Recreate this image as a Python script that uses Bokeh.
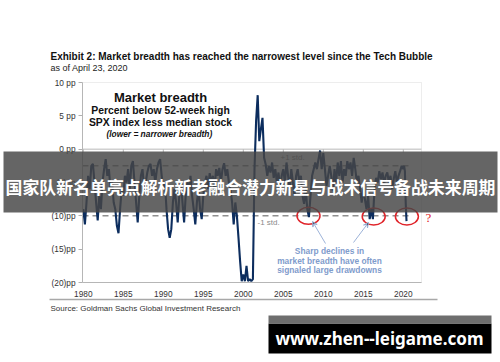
from bokeh.plotting import figure
from bokeh.models import (Label, BoxAnnotation, FixedTicker, Arrow, VeeHead,
                          LinearAxis)
from bokeh.embed import file_html
from bokeh.resources import INLINE

# ---------------- data ----------------
title_text = "Exhibit 2: Market breadth has reached the narrowest level since the Tech Bubble"
subtitle_text = "as of April 23, 2020"
source_text = "Source: Goldman Sachs Global Investment Research"
banner_text = "国家队新名单亮点解析新老融合潜力新星与战术信号备战未来周期"
watermark_text = "www.zhen--leigame.com"
box_lines = ["Market breadth", "Percent below 52-week high",
             "SPX index less median stock", "(lower = narrower  breadth)"]
note_lines = ["Sharp declines in", "market breadth have often", "signaled large drawdowns"]

y_ticks = [10, 5, 0, -5, -10, -15, -20]
y_tick_labels = ["10 pp", "5 pp", "0 pp", "(5)pp", "(10)pp", "(15)pp", "(20)pp"]
x_ticks = [1980, 1985, 1990, 1995, 2000, 2005, 2010, 2015, 2020]
x_tick_labels = ["1980", "1985", "1990", "1995", "2000", "2005", "2010", "2015", "2020"]

std_levels = [-2.5, -10.0]
std_labels = ["+1 std.", "-1 std."]
circled_years = [2008.15, 2016.3, 2020.45]
circled_values = [-10.0, -10.1, -10.1]

# percent below 52-week high, SPX less median stock (pp), 5 readings per year
breadth_1980s = [
    -9, -11.3, -8, -4, -6,
    -2.5, -2.2, -5, -8, -10.7,
    -7, -9, -5, -3, -1.5,
    -4, -3, -6, -5, -8,
    -9, -11.5, -12.6, -9, -6,
    -7, -4, -5, -3, -6,
    -2.5, -1.8, -5, -8, -11,
    -7, -4, -3, -6, -5,
    -3.5, -2.5, -2.2, -4, -3,
    -5, -3, -2, -1.5, -4,
]
breadth_1990s = [
    -6, -5, -9, -12, -13.3,
    -12, -8, -6, -8, -11,
    -7, -5, -8, -11, -7,
    -5, -6, -4, -7, -9,
    -11.3, -8, -6, -9, -10.5,
    -7, -5, -4, -6, -3.6,
    -5, -4, -6, -3, -4,
    -2.8, -5, -3, -2.1, -4,
    -3, -5, -6, -8, -11.3,
    -8, -10, -13.3, -16.8, -19.8,
]
breadth_2000s = [
    -18.8, -19.8, -17.5, -19.8, -19.5,
    -19.8, -19.5, -3, 4.2, 8.1,
    1.2, 3, 4.7, -1.3, -2.3,
    -4, -2.5, -3.5, -2, -4.3,
    -3, -5, -3.5, -6, -4,
    -3, -5, -2, -4, -6,
    -3, -5, -7, -4, -3,
    -5, -4, -7, -8.2, -6,
    -9, -10.2, -7, -4, -3,
    -2, -3, -1.5, -0.2, -3,
]
breadth_2010s = [
    -0.6, -3, -5.5, -4, -2.5,
    -4, -6.3, -3, -5, -2,
    -4, -1.8, -5, -3, -4,
    -1.8, -3, -2, -4, -1.3,
    -3, -5, -4, -6, -8,
    -6, -7.5, -9, -7, -10.5,
    -9, -10.5, -6, -4.3, -5,
    -3.3, -4.5, -3.5, -5.2, -4,
    -3.5, -5, -4, -6, -4.5,
    -3.3, -5, -4, -3.3, -2.5,
]
years_2020 = [2020.0, 2020.1, 2020.2, 2020.3, 2020.4]
breadth_2020 = [-3, -2.5, -3.3, -8, -10.8]

years = [round(1980 + 0.2 * i, 1) for i in range(200)] + years_2020
breadth = breadth_1980s + breadth_1990s + breadth_2000s + breadth_2010s + breadth_2020

# plotted area extent (data units)
X0, X1 = 1979.9, 2022.275
Y0, Y1 = -20, 10

# ---------------- figure ----------------
FONT = "Liberation Sans"
W, H = 500, 362
PX_YR, PX_PP = 8.0, 200 / 30.0
xs = X0 - 82 / PX_YR
ys = Y0 - (H - 282) / PX_PP
p = figure(width=W, height=H,
           x_range=(xs, xs + W / PX_YR), y_range=(ys, ys + H / PX_PP),
           output_backend="svg", toolbar_location=None,
           x_axis_location=None, y_axis_location=None,
           min_border=0, min_border_left=0, min_border_right=0,
           min_border_top=0, min_border_bottom=0,
           background_fill_color="white", border_fill_color="white")
p.outline_line_color = None
p.xgrid.visible = False
p.ygrid.visible = False

# plot area frame
p.add_layout(BoxAnnotation(left=X0, right=X1, bottom=Y0, top=Y1,
                           fill_color=None, line_color="#c4c4c4", line_width=1))

yaxis = LinearAxis(fixed_location=X0, bounds=(Y0, Y1), ticker=FixedTicker(ticks=y_ticks))
yaxis.major_label_overrides = dict(zip(y_ticks, y_tick_labels))
yaxis.major_label_text_font = FONT
yaxis.major_label_text_font_size = "8.3px"
yaxis.major_label_text_color = "#333333"
yaxis.axis_line_color = "#b0b0b0"
yaxis.major_tick_line_color = "#b0b0b0"
yaxis.major_tick_out = 4
yaxis.major_tick_in = 0
yaxis.minor_tick_line_color = None
yaxis.major_label_standoff = 3
p.add_layout(yaxis, "left")

xaxis = LinearAxis(fixed_location=Y0, bounds=(X0, X1), ticker=FixedTicker(ticks=x_ticks))
xaxis.major_label_overrides = dict(zip(x_ticks, x_tick_labels))
xaxis.major_label_text_font = FONT
xaxis.major_label_text_font_size = "8.3px"
xaxis.major_label_text_color = "#333333"
xaxis.axis_line_color = "#b0b0b0"
xaxis.major_tick_line_color = None
xaxis.minor_tick_line_color = None
xaxis.major_label_standoff = 2
p.add_layout(xaxis, "below")

# zero axis line with tick marks
p.line(x=[X0, X1], y=[0, 0], line_color="#b8b8b8", line_width=1)
p.segment(x0=x_ticks, y0=[0] * len(x_ticks), x1=x_ticks, y1=[-0.5] * len(x_ticks),
          line_color="#b8b8b8", line_width=1)

# std lines
for lvl in std_levels:
    p.line(x=[X0, X1 - 1.2], y=[lvl, lvl], line_color="#8f8f8f", line_width=1.5,
           line_dash="6 4")

# main series
p.line(years, breadth, line_color="#0c2d5e", line_width=2.1)

# circles
p.ellipse(x=circled_years, y=circled_values, width=23, height=17,
          width_units="screen", height_units="screen",
          fill_color=None, line_color="#e0242a", line_width=1.5)


def lab(x, y, text, size, color="#000000", style="normal", align="left",
        baseline="middle", font=FONT):
    # x, y given in page pixels from the top-left corner
    p.add_layout(Label(x=x, y=H - y, x_units="screen", y_units="screen", text=text,
                       text_font=font, text_font_size=size, text_font_style=style,
                       text_color=color, text_align=align, text_baseline=baseline))


def box(l, r, t, b, color, alpha=1.0):
    p.add_layout(BoxAnnotation(left=l, right=r, bottom=H - b, top=H - t,
                               left_units="screen", right_units="screen",
                               bottom_units="screen", top_units="screen",
                               fill_color=color, fill_alpha=alpha, line_color=None))


# std labels
lab(280, 157, std_labels[0], "8px", "#8a8a8a")
lab(257, 222, std_labels[1], "8px", "#8a8a8a")

# box text
lab(160, 96.7, box_lines[0], "13px", "#111111", "bold", "center")
lab(160, 110, box_lines[1], "10.4px", "#111111", "bold", "center")
lab(160, 121.7, box_lines[2], "10.4px", "#111111", "bold", "center")
lab(160, 133, box_lines[3], "8.4px", "#111111", "bold italic", "center")

# note text
for i, t in enumerate(note_lines):
    lab(329, 250.7 + 9.3 * i, t, "8.4px", "#7f9ccc", "bold", "center")

for (x0, y0, x1, y1) in [(325, 243, 312, 221), (353, 242, 368, 222)]:
    p.add_layout(Arrow(end=VeeHead(size=5, line_color="#9db3d8", line_width=1),
                       x_start=x0, y_start=H - y0, x_end=x1, y_end=H - y1,
                       start_units="screen", end_units="screen",
                       line_color="#9db3d8", line_width=1))

lab(428, 217, "?", "13px", "#e0242a", "normal", "center", font="Liberation Serif")

# title, subtitle, source
lab(50, 56, title_text, "10px", "#111111", "bold", "left", "alphabetic")
lab(50, 67.5, subtitle_text, "9px", "#222222", "normal", "left", "alphabetic")
box(49, 437, 298.3, 299.8, "#a8a8a8")
lab(50, 308.3, source_text, "8px", "#333333")

# banner overlay
box(3, 497, 151, 212, "#464646", 0.83)
lab(250, 186, banner_text, "16.9px", "#ffffff", "bold", "center", font="Noto Sans CJK SC")

# watermark
box(268, 491, 323, 353, "#000000")
box(268, 491, 315, 323, "#6e6e6e")
lab(379, 338, watermark_text, "17px", "#ffffff", "bold", "center", font="Noto Sans")

open("out.html", "w").write(file_html(p, INLINE))
